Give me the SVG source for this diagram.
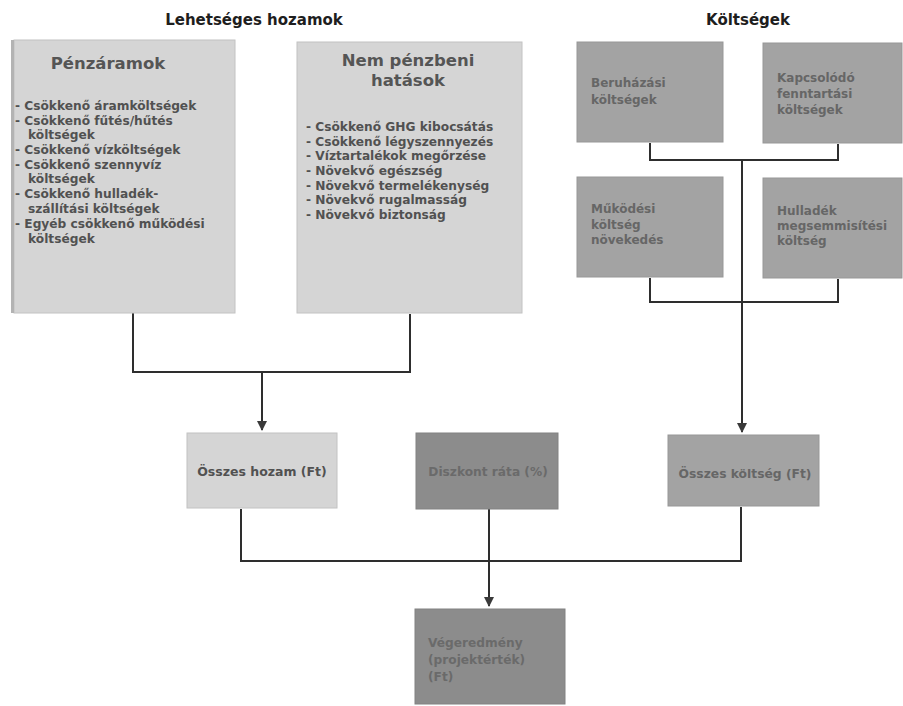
<svg xmlns="http://www.w3.org/2000/svg" width="903" height="706" viewBox="0 0 903 706">
<defs>
<style>
text{font-family:"DejaVu Sans","Verdana",sans-serif;font-weight:bold}
.title{font-size:15px;fill:#1e1e1e;text-anchor:middle}
.head{font-size:16.5px;fill:#555;text-anchor:middle}
.item{font-size:12.2px;fill:#515151}
.litebox{fill:#d5d5d5;stroke:#c2c2c2;stroke-width:1}
.midbox{fill:#a3a3a3;stroke:#979797;stroke-width:1}
.darkbox{fill:#8c8c8c;stroke:#828282;stroke-width:1}
.tmid{font-size:12px;fill:#666}
.tdark{font-size:12.2px;fill:#6a6a6a}
.conn{fill:none;stroke:#2e2e2e;stroke-width:2}
</style>
<marker id="arr" viewBox="0 0 10 10" refX="9" refY="5" markerWidth="5" markerHeight="5" orient="auto">
<path d="M0,0 L10,5 L0,10 z" fill="#3a3a3a"/>
</marker>
</defs>
<rect width="903" height="706" fill="#ffffff"/>

<text class="title" x="254" y="25">Lehetséges hozamok</text>
<text class="title" x="748" y="25">Költségek</text>

<g id="connectors">
<path class="conn" d="M133,313 V372 H410 V314"/>
<path class="conn" d="M262,372 V430" marker-end="url(#arr)"/>
<path class="conn" d="M650,143 V160 H838 V144"/>
<path class="conn" d="M650,278 V302 H838 V279"/>
<path class="conn" d="M742,160 V432" marker-end="url(#arr)"/>
<path class="conn" d="M241,509 V561 H741 V507"/>
<path class="conn" d="M489,509 V606" marker-end="url(#arr)"/>
</g>

<g id="penzaramok">
<rect class="litebox" x="14" y="40" width="221" height="273"/>
<rect x="11" y="40" width="3" height="273" fill="#b3b3b3"/>
<text class="head" x="108" y="69">Pénzáramok</text>
<text class="item" x="15" y="110">- Csökkenő áramköltségek</text>
<text class="item" x="15" y="125">- Csökkenő fűtés/hűtés</text>
<text class="item" x="28" y="139">költségek</text>
<text class="item" x="15" y="154">- Csökkenő vízköltségek</text>
<text class="item" x="15" y="169">- Csökkenő szennyvíz</text>
<text class="item" x="28" y="183">költségek</text>
<text class="item" x="15" y="198">- Csökkenő hulladék-</text>
<text class="item" x="28" y="213">szállítási költségek</text>
<text class="item" x="15" y="228">- Egyéb csökkenő működési</text>
<text class="item" x="28" y="243">költségek</text>
</g>

<g id="nem-penzbeni">
<rect class="litebox" x="297" y="42" width="225" height="271"/>
<text class="head" x="408" y="66">Nem pénzbeni</text>
<text class="head" x="408" y="86">hatások</text>
<text class="item" x="306" y="131">- Csökkenő GHG kibocsátás</text>
<text class="item" x="306" y="146">- Csökkenő légyszennyezés</text>
<text class="item" x="306" y="160">- Víztartalékok megőrzése</text>
<text class="item" x="306" y="175">- Növekvő egészség</text>
<text class="item" x="306" y="190">- Növekvő termelékenység</text>
<text class="item" x="306" y="204">- Növekvő rugalmasság</text>
<text class="item" x="306" y="219">- Növekvő biztonság</text>
</g>

<g id="beruhazasi">
<rect class="midbox" x="577" y="42" width="146" height="100"/>
<text class="tmid" x="591" y="87">Beruházási</text>
<text class="tmid" x="591" y="104">költségek</text>
</g>

<g id="kapcsolodo">
<rect class="midbox" x="763" y="43" width="139" height="100"/>
<text class="tmid" x="777" y="82">Kapcsolódó</text>
<text class="tmid" x="777" y="98">fenntartási</text>
<text class="tmid" x="777" y="114">költségek</text>
</g>

<g id="mukodesi">
<rect class="midbox" x="577" y="177" width="146" height="100"/>
<text class="tmid" x="591" y="213">Működési</text>
<text class="tmid" x="591" y="229">költség</text>
<text class="tmid" x="591" y="244">növekedés</text>
</g>

<g id="hulladek">
<rect class="midbox" x="763" y="178" width="139" height="100"/>
<text class="tmid" x="777" y="215">Hulladék</text>
<text class="tmid" x="777" y="230">megsemmisítési</text>
<text class="tmid" x="777" y="245">költség</text>
</g>

<g id="osszes-hozam">
<rect class="litebox" x="187" y="433" width="150" height="75"/>
<text class="item" x="262" y="476" text-anchor="middle" style="font-size:12.5px">Összes hozam (Ft)</text>
</g>

<g id="diszkont">
<rect class="darkbox" x="416" y="433" width="142" height="76"/>
<text class="tdark" x="488" y="476" text-anchor="middle">Diszkont ráta (%)</text>
</g>

<g id="osszes-koltseg">
<rect class="midbox" x="668" y="435" width="151" height="71"/>
<text class="tmid" x="745" y="478" text-anchor="middle" style="font-size:12.3px">Összes költség (Ft)</text>
</g>

<g id="vegeredmeny">
<rect class="darkbox" x="415" y="609" width="150" height="95"/>
<text class="tdark" x="428" y="647">Végeredmény</text>
<text class="tdark" x="428" y="664">(projektérték)</text>
<text class="tdark" x="428" y="681">(Ft)</text>
</g>
</svg>
